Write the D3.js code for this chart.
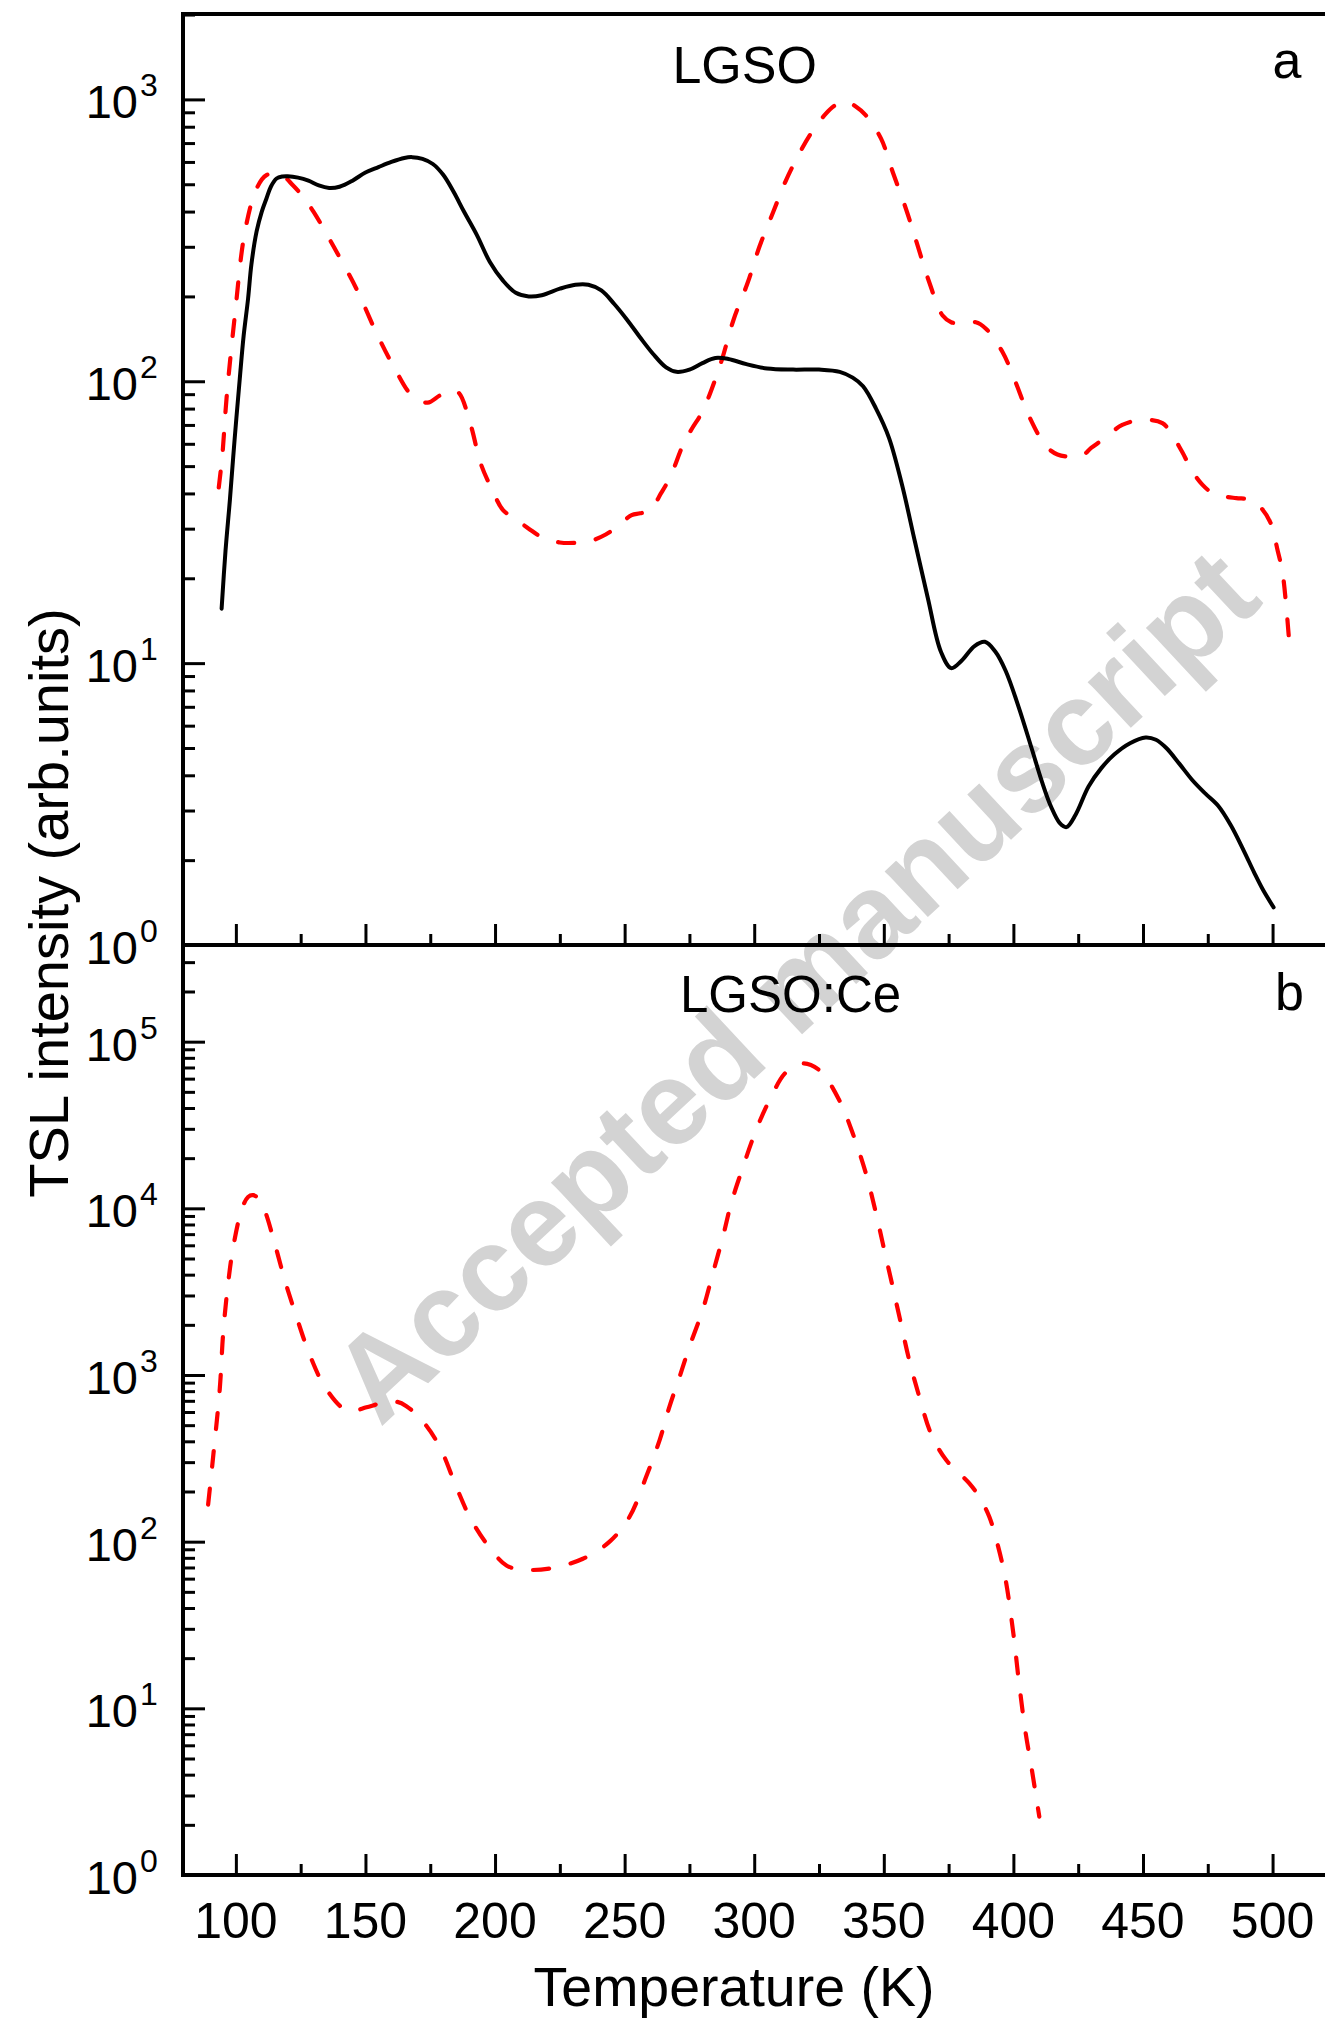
<!DOCTYPE html>
<html><head><meta charset="utf-8">
<script src="https://cdn.jsdelivr.net/npm/d3@7"></script>
<style>
body{margin:0;background:#fff}
text{font-family:"Liberation Sans",Arial,Helvetica,sans-serif}
</style>
</head><body><svg id="c" width="1325" height="2022"></svg>
<script>
// ---- data (Temperature K, TSL intensity arb. units) ----
const lgsoBlackT = [94.5,96,97.7,99.5,101.5,103,104.7,106,108,110,111.8,113.5,115.7,118,120,124,128,132,136,140,145,150,155,160,165,168,172,176,180,184,188,193,198,203,208,213,218,225,231,236,241,246,251,256,261,266,270,275,280,285,290,297,305,315,325,333,338,342,347,352,357,362,367,372,376,380,385,389,393,397,402,407,411,414.5,418,420.5,424,429,434,439,445,451,455,459,464,469,474,479,484,489,493,496.3,500.4];
const lgsoBlackV = [15.6,25,38,62,102,145,196,260,340,400,445,490,524,533,534,528,515,495,485,490,515,550,575,600,620,624,615,590,540,470,400,330,265,228,206,200,202,213,220,220,210,188,165,143,125,112,108,110,116,121,120,115,111,110,110,108,103,96,80,63,43,27,17,11,9.6,10.2,11.5,11.9,11,9.4,7,5,3.8,3.1,2.7,2.62,2.9,3.65,4.25,4.75,5.2,5.45,5.35,5.0,4.4,3.85,3.45,3.12,2.65,2.15,1.8,1.57,1.36];

const lgsoRedT = [93.4,94.8,96.4,99.6,103.5,108,111.8,117,122,126,130,137.5,146.5,154,160.6,168.4,174,178.6,183,186,190.6,194.5,199,203,208,213,218,225,232.6,237.7,242.7,246.8,252.7,256,260,264,267.7,272.7,276,280,284,287.5,292,297.5,302,307.4,312,317.4,322,327.4,331,335,339.3,343,348.9,353.4,358.5,363,367.5,372.7,376,380.4,385.5,389.3,395.8,400.9,406.1,412.5,417,422.7,426.6,430,434.4,442,449.8,457.5,461,465.2,469,472.9,477,481.5,486,491.5,495,499,502,503.9,506.3];
const lgsoRedV = [42,55,87,171,340,483,539,545,496,450,399,303,213,150,114,88,84,89,93,91,70,51,41,35,32.4,30,28,26.8,26.8,27.3,28.6,30.3,33.5,34,35,40,46,60,68,78,96,119,165,224,300,400,510,643,760,885,950,985,942,880,727,554,410,304,225,171,162,160,162,154,127,99,75,59,55,54,54.5,58,62,70,73,71,65,56,48,43,40,39,38.5,38,36,31.8,25,20.8,12.3];

const ceRedT = [89.3,91.2,93.8,95.1,97,99,102.2,104.7,106.7,109.9,111.8,115,118.9,123.4,128.5,134.3,141.4,145.2,150.4,156.8,162,165.8,172.2,178.6,185,190.2,196.6,204.4,210.8,221,233.9,244.2,251.9,258.3,263.5,267.3,271.2,275,280.1,284,287.9,291.1,295,300.7,305.9,312.3,318.7,325.2,332.8,338,343.1,347,350.2,353.4,356.6,359.8,363.7,368.2,374,383,386.8,390.7,394,397,400,401.9,404.5,407,410];
const ceRedV = [167,320,830,1780,3540,5880,9770,11700,12000,10900,9100,6150,3700,2230,1320,850,630,610,640,681,691,650,525,372,214,141,98,72,68,69,79,100,141,245,407,646,975,1480,2450,4060,6740,10700,16500,29400,44600,65600,74000,67300,44600,28200,16200,9330,5600,3400,2040,1230,740,445,310,224,186,141,95,59,28,15.5,7.5,4.4,2.24];

const xMajorTicks = [100,150,200,250,300,350,400,450,500];
const xMinorTicks = [125,175,225,275,325,375,425,475];
const topDecades = [0,1,2,3];
const botDecades = [0,1,2,3,4,5];
const panelTitles = ["LGSO","LGSO:Ce"];
const panelLetters = ["a","b"];

// ---- scales ----
const svg = d3.select("#c");
const x = d3.scaleLinear().domain([79.6,520]).range([183,1324.4]);
const yTop = d3.scaleLog().domain([1, Math.pow(10,3.303)]).range([945,14]);
const yBot = d3.scaleLog().domain([1, Math.pow(10,5.58)]).range([1875,945]);

// ---- watermark ----
svg.append("text")
  .attr("transform","translate(380,1428) rotate(-43)")
  .attr("font-size",119).attr("font-weight","bold")
  .attr("fill","#d3d3d3")
  .text("Accepted manuscript");

// ---- curves ----
function drawLine(T,V,y,opts){
  const data = T.map((t,i)=>[t,V[i]]);
  const line = d3.line().x(d=>x(d[0])).y(d=>y(d[1])).curve(d3.curveCatmullRom.alpha(0.5));
  const p = svg.append("path").datum(data).attr("d",line)
    .attr("fill","none").attr("stroke",opts.color).attr("stroke-width",opts.w);
  if(opts.dash){ p.attr("stroke-dasharray",opts.dash).attr("stroke-linecap","round"); }
  else p.attr("stroke-linejoin","round").attr("stroke-linecap","round");
}
drawLine(lgsoRedT,lgsoRedV,yTop,{color:"#ff0000",w:4.2,dash:"16,22"});
drawLine(lgsoBlackT,lgsoBlackV,yTop,{color:"#000",w:4});
drawLine(ceRedT,ceRedV,yBot,{color:"#ff0000",w:4.2,dash:"16,22"});

// ---- axes ----
function styleAxis(g){ g.select(".domain").remove(); g.selectAll("line").attr("stroke","#000").attr("stroke-width",3); }
[945,1875].forEach(yp=>{
  svg.append("g").attr("transform",`translate(0,${yp})`)
    .call(d3.axisBottom(x).tickValues(xMajorTicks).tickSize(-21).tickSizeOuter(0).tickFormat(""))
    .call(styleAxis);
  svg.append("g").attr("transform",`translate(0,${yp})`)
    .call(d3.axisBottom(x).tickValues(xMinorTicks).tickSize(-11).tickSizeOuter(0).tickFormat(""))
    .call(styleAxis);
});
function yAxis(y,decades){
  const maxV = y.domain()[1];
  const majors = decades.map(d=>Math.pow(10,d));
  const minors = [];
  decades.forEach(d=>{ for(let m=2;m<=9;m++){ const v=m*Math.pow(10,d); if(v<maxV) minors.push(v);} });
  svg.append("g").attr("transform","translate(183,0)")
    .call(d3.axisLeft(y).tickValues(majors).tickSize(-22).tickSizeOuter(0).tickFormat(""))
    .call(styleAxis);
  svg.append("g").attr("transform","translate(183,0)")
    .call(d3.axisLeft(y).tickValues(minors).tickSize(-12).tickSizeOuter(0).tickFormat(""))
    .call(styleAxis);
  decades.forEach(d=>{
    const ty = y(Math.pow(10,d));
    svg.append("text").attr("x",138).attr("y",ty+19).attr("text-anchor","end")
      .attr("font-size",47).text("10");
    svg.append("text").attr("x",140).attr("y",ty-3).attr("text-anchor","start")
      .attr("font-size",32).text(String(d));
  });
}
yAxis(yTop,topDecades);
yAxis(yBot,botDecades);

// frame
const frame = svg.append("g").attr("stroke","#000").attr("stroke-width",4);
frame.append("line").attr("x1",181).attr("x2",1325).attr("y1",14).attr("y2",14);
frame.append("line").attr("x1",183).attr("x2",183).attr("y1",12).attr("y2",1877);
frame.append("line").attr("x1",181).attr("x2",1325).attr("y1",945).attr("y2",945);
frame.append("line").attr("x1",181).attr("x2",1325).attr("y1",1875).attr("y2",1875);

// x tick labels
xMajorTicks.forEach(v=>{
  svg.append("text").attr("x",x(v)).attr("y",1938).attr("text-anchor","middle")
    .attr("font-size",50).text(v);
});
svg.append("text").attr("x",734).attr("y",2006).attr("text-anchor","middle")
  .attr("font-size",55.5).text("Temperature (K)");
svg.append("text").attr("transform","translate(68,903) rotate(-90)").attr("text-anchor","middle")
  .attr("font-size",56).text("TSL intensity (arb.units)");

// panel labels
svg.append("text").attr("x",744.7).attr("y",83).attr("text-anchor","middle").attr("font-size",52).text(panelTitles[0]);
svg.append("text").attr("x",680).attr("y",1012).attr("text-anchor","start").attr("font-size",51).text(panelTitles[1]);
svg.append("text").attr("x",1287).attr("y",78).attr("text-anchor","middle").attr("font-size",52).text(panelLetters[0]);
svg.append("text").attr("x",1289.5).attr("y",1010).attr("text-anchor","middle").attr("font-size",52).text(panelLetters[1]);
</script>
</body></html>
